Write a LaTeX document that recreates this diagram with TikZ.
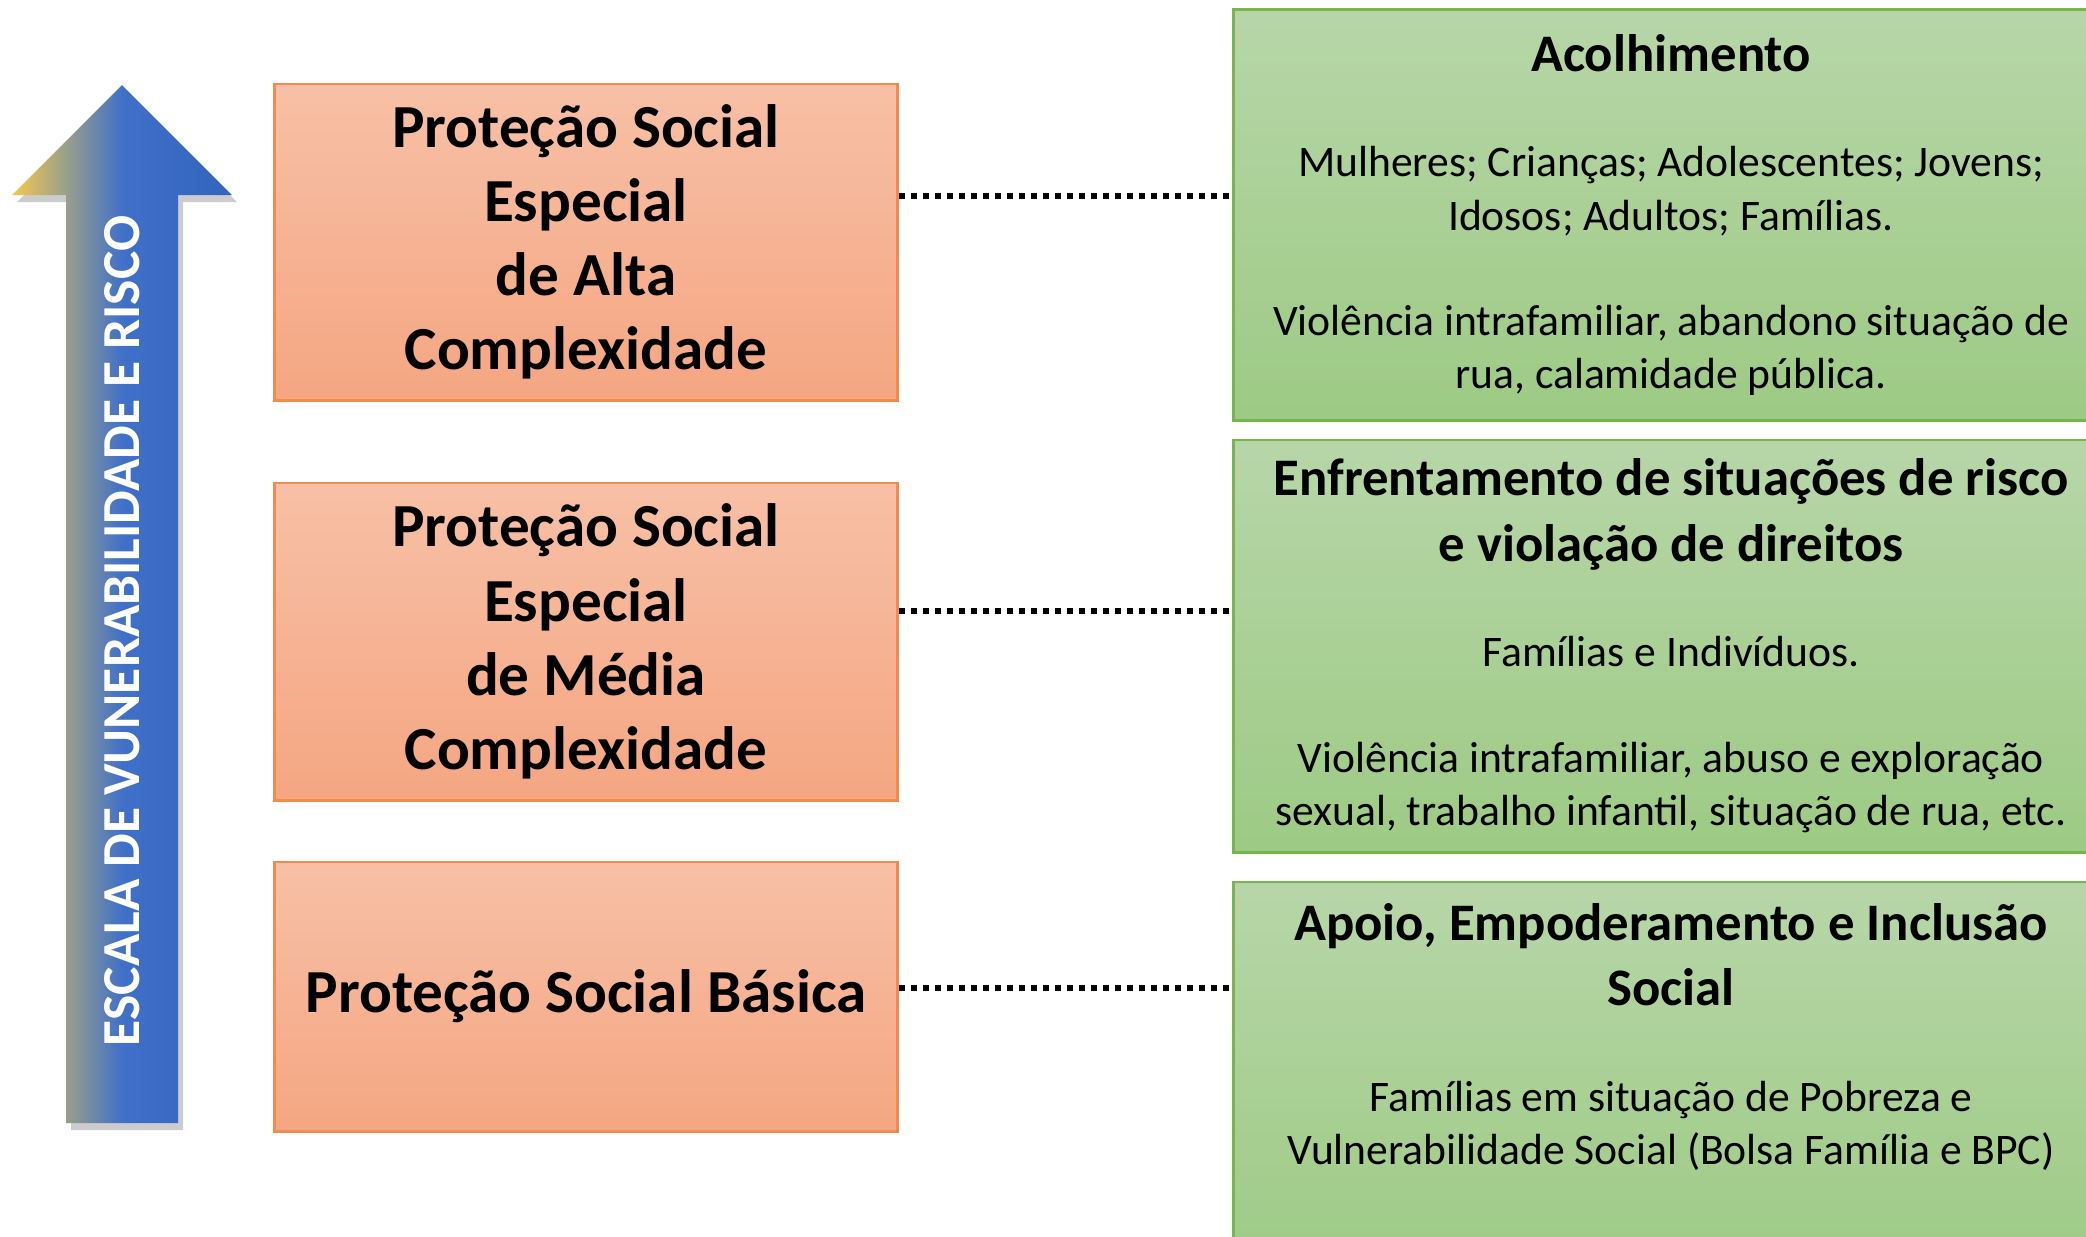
\documentclass[tikz,border=0pt]{standalone}
\usepackage{fontspec}
\setmainfont{Carlito}
\usetikzlibrary{positioning, shadows}

\definecolor{setaamarela}{RGB}{246,200,80}
\definecolor{setacinza}{RGB}{152,158,140}
\definecolor{setaazul}{RGB}{64,112,200}
\definecolor{setaescura}{RGB}{50,100,190}
\definecolor{nivelclaro}{RGB}{247,192,166}
\definecolor{nivelescuro}{RGB}{245,166,130}
\definecolor{nivelborda}{RGB}{240,140,80}
\definecolor{servclaro}{RGB}{183,214,168}
\definecolor{servescuro}{RGB}{157,202,132}
\definecolor{servborda}{RGB}{120,180,80}

\pgfdeclarehorizontalshading{escalashade}{100bp}{color(0bp)=(setaamarela); color(25bp)=(setaamarela); color(37.5bp)=(setacinza); color(50bp)=(setaazul); color(75bp)=(setaescura); color(100bp)=(setaescura)}

\newcommand{\titulo}{\bfseries\fontsize{15}{18.2}\selectfont}

\tikzset{
    nivel/.style = {draw=nivelborda, line width=0.8pt, top color=nivelclaro, bottom color=nivelescuro,
                    minimum width=6.22cm, inner sep=0pt, align=center,
                    font=\bfseries\fontsize{17.4}{21.1}\selectfont},
    servico/.style = {draw=servborda, line width=0.8pt, top color=servclaro, bottom color=servescuro,
                      minimum width=8.74cm, inner sep=0pt, align=center,
                      font=\fontsize{12.4}{15.1}\selectfont},
    servtexto/.style = {align=center, inner sep=0pt, font=\fontsize{12.4}{15.1}\selectfont},
    ligacao/.style = {line width=0.06cm, dash pattern=on 0.06cm off 0.06cm},
    escala/.style = {rotate=90, text=white, font=\bfseries\fontsize{15.2}{18}\selectfont}
}

\begin{document}
\begin{tikzpicture}[x=0.01cm, y=-0.01cm]
    \clip (0,0) rectangle (2086,1236);

    % seta da escala
    \shade[shading=escalashade, drop shadow={shadow xshift=0.05cm, shadow yshift=-0.07cm, opacity=0.4}]
        (66,1123) -- (66,195) -- (12,195) -- (122,85) -- (232,195) -- (178,195) -- (178,1123) -- cycle;
    \node[escala] (escala) at (122,631) {ESCALA DE VUNERABILIDADE E RISCO};

    % niveis de protecao
    \node[nivel, minimum height=3.16cm] (alta) at (586,242) {Proteção Social\\Especial\\de Alta\\Complexidade};
    \node[nivel, minimum height=3.17cm, below=0.80cm of alta] (media) {Proteção Social\\Especial\\de Média\\Complexidade};
    \node[nivel, minimum height=2.69cm, below=0.59cm of media] (basica) {Proteção Social Básica};

    % servicos
    \node[servico, minimum height=4.10cm] (acolhe) at (1671,215)
        {{\titulo Acolhimento}\\[15pt]
         Mulheres; Crianças; Adolescentes; Jovens;\\Idosos; Adultos; Famílias.\\[15pt]
         Violência intrafamiliar, abandono situação de\\rua, calamidade pública.};
    \node[servico, minimum height=4.12cm, below=0.17cm of acolhe] (enfrenta)
        {{\titulo Enfrentamento de situações de risco}\\[3.4pt]{\titulo e violação de direitos}\\[15pt]
         Famílias e Indivíduos.\\[15pt]
         Violência intrafamiliar, abuso e exploração\\sexual, trabalho infantil, situação de rua, etc.};
    \node[servico, minimum height=4.00cm, below=0.27cm of enfrenta] (apoio) {};
    \node[servtexto] (apoiotexto) at (1671,1037)
        {{\titulo Apoio, Empoderamento e Inclusão}\\[3.4pt]{\titulo Social}\\[15pt]
         Famílias em situação de Pobreza e\\Vulnerabilidade Social (Bolsa Família e BPC)};

    % ligacoes
    \coordinate (l1) at (0,196);
    \coordinate (l2) at (0,611);
    \coordinate (l3) at (0,988);
    \draw[ligacao] (alta.east |- l1) -- (acolhe.west |- l1);
    \draw[ligacao] (media.east |- l2) -- (enfrenta.west |- l2);
    \draw[ligacao] (basica.east |- l3) -- (apoio.west |- l3);
\end{tikzpicture}
\end{document}
